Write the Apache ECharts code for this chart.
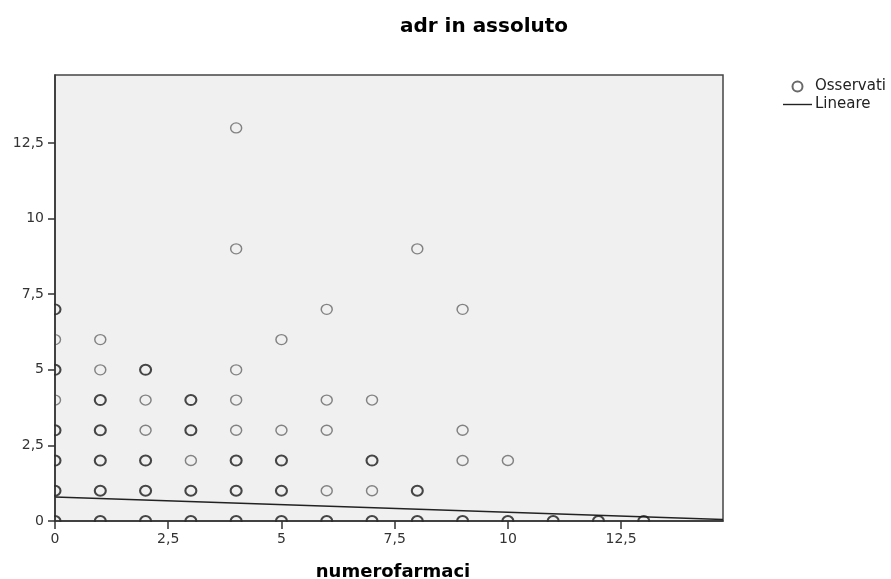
<!DOCTYPE html>
<html lang="it">
<head>
    <meta charset="UTF-8">
    <title>adr in assoluto</title>
    <script src="https://cdn.jsdelivr.net/npm/echarts@6/dist/echarts.min.js"></script>
    <style>
        html, body { margin: 0; padding: 0; background: #fff; }
        #chart { width: 891px; height: 579px; }
    </style>
</head>
<body>
    <div id="chart"></div>
    <script>
        // osservati: [numerofarmaci, adr, scuro(1 = punti sovrapposti)]
        var observed = [
            [0,0,1],[0,1,1],[0,2,1],[0,3,1],[0,4,0],[0,5,1],[0,6,0],[0,7,1],
            [1,0,1],[1,1,1],[1,2,1],[1,3,1],[1,4,1],[1,5,0],[1,6,0],
            [2,0,1],[2,1,1],[2,2,1],[2,3,0],[2,4,0],[2,5,1],
            [3,0,1],[3,1,1],[3,2,0],[3,3,1],[3,4,1],
            [4,0,1],[4,1,1],[4,2,1],[4,3,0],[4,4,0],[4,5,0],[4,9,0],[4,13,0],
            [5,0,1],[5,1,1],[5,2,1],[5,3,0],[5,6,0],
            [6,0,1],[6,1,0],[6,3,0],[6,4,0],[6,7,0],
            [7,0,1],[7,1,0],[7,2,1],[7,4,0],
            [8,0,1],[8,1,1],[8,9,0],
            [9,0,1],[9,2,0],[9,3,0],[9,7,0],
            [10,0,1],[10,2,0],
            [11,0,1],[12,0,1],[13,0,1]
        ];
        // retta lineare stimata
        var linear = [[0, 0.79], [14.75, 0.05]];
        var xTicks = [0, 2.5, 5, 7.5, 10, 12.5];
        var yTicks = [0, 2.5, 5, 7.5, 10, 12.5];

        var chart = echarts.init(document.getElementById('chart'));

        function fmt(v) {
            return String(v).replace('.', ',');
        }

        var option = {
            animation: false,
            textStyle: { fontFamily: 'DejaVu Sans, Verdana, sans-serif' },
            title: [{
                text: 'adr in assoluto',
                left: 479,
                top: 12,
                textAlign: 'center',
                textStyle: { fontSize: 20, fontWeight: 'bold', color: '#000' }
            }, {
                text: 'numerofarmaci',
                left: 388,
                top: 558,
                textAlign: 'center',
                textStyle: { fontSize: 18, fontWeight: 'bold', color: '#000' }
            }],
            legend: {
                orient: 'vertical',
                left: 778,
                top: 74,
                padding: 5,
                itemGap: 3,
                itemWidth: 29,
                itemHeight: 10,
                textStyle: { fontSize: 15, lineHeight: 14, color: '#222', padding: [0, 0, 0, -2] },
                data: [
                    { name: 'Osservati', icon: 'circle' },
                    { name: 'Lineare', icon: 'path://M0,0 H29 V1.4 H0 Z', itemStyle: { color: '#222' } }
                ]
            },
            // bande bianche fuori dall'area del grafico: i cerchi sui bordi appaiono tagliati
            graphic: [
                { type: 'rect', z: 3, silent: true, shape: { x: 30, y: 70, width: 24, height: 462 }, style: { fill: '#fff' } },
                { type: 'rect', z: 3, silent: true, shape: { x: 30, y: 522, width: 700, height: 12 }, style: { fill: '#fff' } }
            ],
            grid: {
                left: 55,
                right: 891 - 723,
                top: 75,
                bottom: 579 - 521,
                show: true,
                backgroundColor: '#f0f0f0',
                borderColor: '#444',
                borderWidth: 1.5
            },
            xAxis: {
                type: 'value',
                z: 5,
                min: 0,
                max: 14.75,
                splitLine: { show: false },
                axisLine: { onZero: false, lineStyle: { color: '#333', width: 1.5 } },
                axisTick: { show: true, length: 8, customValues: xTicks, lineStyle: { color: '#333', width: 1.5 } },
                axisLabel: { customValues: xTicks, color: '#333', fontSize: 14, margin: 11, formatter: fmt }
            },
            yAxis: {
                type: 'value',
                z: 5,
                min: 0,
                max: 14.75,
                splitLine: { show: false },
                axisLine: { onZero: false, lineStyle: { color: '#333', width: 1.5 } },
                axisTick: { show: true, length: 7, customValues: yTicks, lineStyle: { color: '#333', width: 1.5 } },
                axisLabel: { customValues: yTicks, color: '#333', fontSize: 14, margin: 11, formatter: fmt }
            },
            series: [{
                name: 'Osservati',
                type: 'scatter',
                symbol: 'circle',
                symbolSize: [11, 10],
                z: 2,
                data: observed.map(function (p) {
                    // punti sovrapposti resi più scuri
                    return {
                        value: p,
                        itemStyle: p[2] ? { borderColor: '#1a1a1a', borderWidth: 2 } : { borderColor: '#666', borderWidth: 1.4 }
                    };
                }),
                itemStyle: {
                    color: 'rgba(0,0,0,0)',
                    borderColor: '#444',
                    borderWidth: 1.4
                }
            }, {
                name: 'Lineare',
                type: 'line',
                z: 2,
                data: linear,
                showSymbol: false,
                symbol: 'none',
                lineStyle: { color: '#222', width: 1.5 },
                itemStyle: { color: '#222' }
            }]
        };

        chart.setOption(option);
    </script>
</body>
</html>
